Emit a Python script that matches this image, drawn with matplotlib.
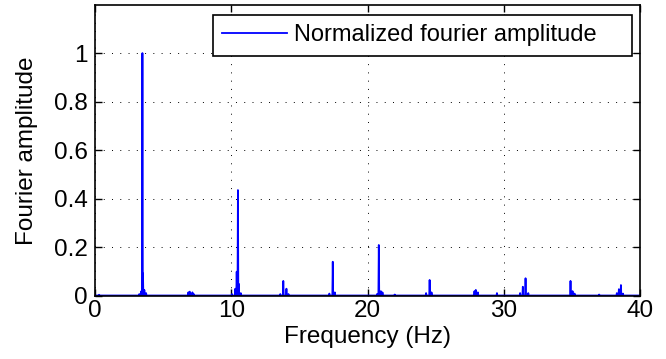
import matplotlib
matplotlib.use('Agg')
import matplotlib.pyplot as plt
import numpy as np

plt.rcParams['font.family'] = ['Liberation Sans', 'DejaVu Sans']

# spectral spikes: frequency (Hz) and normalised amplitude
spike_freq = [0.3, 3.25, 3.40, 3.48, 3.52, 3.62, 3.75, 6.85, 6.95, 7.15, 7.25,
              10.05, 10.30, 10.40, 10.49, 10.55, 10.70, 13.60, 13.82, 14.05, 14.20,
              17.20, 17.45, 17.60, 20.70, 20.83, 20.98, 21.10, 22.00, 24.30, 24.56,
              24.70, 27.85, 27.95, 28.10, 29.50, 31.20, 31.40, 31.60, 31.80,
              34.90, 35.05, 35.20, 37.00, 38.30, 38.45, 38.60, 38.75]
spike_amp = [0.005, 0.008, 0.02, 1.00, 0.093, 0.025, 0.012, 0.015, 0.018, 0.015, 0.008,
             0.008, 0.03, 0.10, 0.436, 0.05, 0.012, 0.008, 0.062, 0.03, 0.008,
             0.01, 0.141, 0.015, 0.008, 0.21, 0.02, 0.015, 0.006, 0.012, 0.066,
             0.015, 0.02, 0.025, 0.015, 0.012, 0.012, 0.038, 0.073, 0.012,
             0.062, 0.02, 0.01, 0.006, 0.012, 0.028, 0.045, 0.01]
base_level = 0.002
half_width = 0.03

# build a spiky trace from the spikes
freq = [0.0]
amp = [base_level]
for f, a in zip(spike_freq, spike_amp):
    freq += [f - half_width, f, f + half_width]
    amp += [base_level, a, base_level]
freq.append(40.0)
amp.append(base_level)

fig = plt.figure(figsize=(6.66, 3.59), dpi=100)
ax = fig.add_axes([95 / 666, 63 / 359, 545 / 666, 291 / 359])
ax.plot(freq, amp, color='#0000ff', lw=1.3, label='Normalized fourier amplitude')

ax.set_xlim(0, 40)
ax.set_ylim(0, 1.198)
ax.set_xticks([0, 10, 20, 30, 40])
ax.set_yticks([0, 0.2, 0.4, 0.6, 0.8, 1.0])
ax.set_yticklabels(['0', '0.2', '0.4', '0.6', '0.8', '1'])
ax.tick_params(direction='in', labelsize=17.5, length=5, width=1, top=True, right=True)
ax.tick_params(axis='x', pad=3)
ax.tick_params(axis='y', pad=5)
ax.grid(True, color='black', linestyle=(0, (1, 7.5)), linewidth=0.7)
for s in ax.spines.values():
    s.set_linewidth(1.2)

ax.set_xlabel('Frequency (Hz)', fontsize=17.5, labelpad=3)
ax.set_ylabel('Fourier amplitude', fontsize=17.5, labelpad=12)

# legend box stretched to a fixed width, text kept to the left
leg = ax.legend(loc='upper left', mode='expand', fontsize=17, fancybox=False,
                framealpha=1, edgecolor='black', handlelength=2.75,
                handletextpad=0.3, borderpad=0.4, borderaxespad=0,
                bbox_to_anchor=(118 / 545, 0, 419 / 545, 281 / 291))
leg.get_frame().set_linewidth(1.2)

fig.savefig('out.png', dpi=100)
